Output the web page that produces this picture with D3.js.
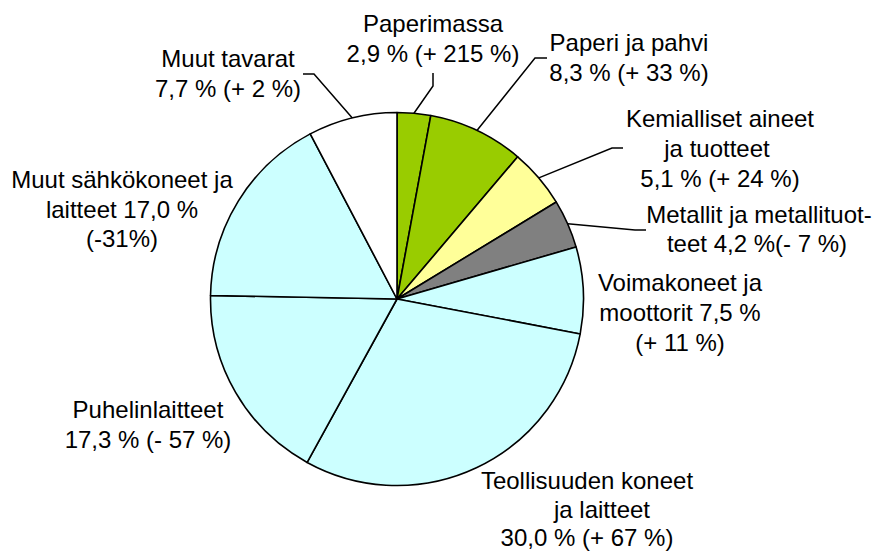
<!DOCTYPE html>
<html>
<head>
<meta charset="utf-8">
<script src="https://cdn.jsdelivr.net/npm/d3@7"></script>
<style>
  body { margin: 0; background: #fff; }
  svg { display: block; }
</style>
</head>
<body>
<div id="chart"></div>
<script>
var width = 874,
    height = 551;

// shares of exports, %
var categories = ["Paperimassa", "Paperi ja pahvi", "Kemialliset aineet ja tuotteet",
  "Metallit ja metallituotteet", "Voimakoneet ja moottorit", "Teollisuuden koneet ja laitteet",
  "Puhelinlaitteet", "Muut sähkökoneet ja laitteet", "Muut tavarat"];
var shares = [2.9, 8.3, 5.1, 4.2, 7.5, 30.0, 17.3, 17.0, 7.7];
var labelText = [
  ["Paperimassa", "2,9 % (+ 215 %)"],
  ["Paperi ja pahvi", "8,3 % (+ 33 %)"],
  ["Kemialliset aineet", "ja tuotteet", "5,1 % (+ 24 %)"],
  ["Metallit ja metallituot-", "teet 4,2 %(- 7 %)"],
  ["Voimakoneet ja", "moottorit 7,5 %", "(+ 11 %)"],
  ["Teollisuuden koneet", "ja laitteet", "30,0 % (+ 67 %)"],
  ["Puhelinlaitteet", "17,3 % (- 57 %)"],
  ["Muut sähkökoneet ja", "laitteet 17,0 %", "(-31%)"],
  ["Muut tavarat", "7,7 % (+ 2 %)"]
];

// styling / layout
var colors = ["#99cc00", "#99cc00", "#ffff99", "#808080", "#ccffff", "#ccffff", "#ccffff", "#ccffff", "#ffffff"];
var cx = 397, cy = 299, radius = 186.5;
// label anchor: centre x, first baseline, line height, per-line x shift
var labelPos = [
  {x: 433, y: 32, lh: 30, dx: [0, 0]},
  {x: 629, y: 51, lh: 30, dx: [0, 0]},
  {x: 720, y: 127, lh: 30, dx: [0, -3, 0]},
  {x: 759, y: 223, lh: 29, dx: [0, -2]},
  {x: 680, y: 291, lh: 30, dx: [0, 0, 0]},
  {x: 587, y: 489, lh: 28.5, dx: [0, 15, 0]},
  {x: 148, y: 418, lh: 30, dx: [0, 0]},
  {x: 122, y: 188, lh: 29.5, dx: [0, 0, 0]},
  {x: 228, y: 67, lh: 30, dx: [0, 0]}
];
// leader line points after the arc point (null = no leader)
var leaders = [
  [[433, 86], [433, 73]],
  [[535, 58], [547, 58]],
  [[612, 148], [623, 148]],
  [[635, 230], [646, 230]],
  null, null, null, null,
  [[314, 74], [303, 74]]
];

var svg = d3.select("#chart").append("svg")
    .attr("width", width)
    .attr("height", height);

var pie = d3.pie().sort(null).value(function(d) { return d; });
var arcs = pie(shares);

var arc = d3.arc().innerRadius(0).outerRadius(radius);
var edge = d3.arc().innerRadius(radius).outerRadius(radius);

var g = svg.append("g")
    .attr("transform", "translate(" + cx + "," + cy + ")");

g.selectAll("path.slice")
    .data(arcs)
  .enter().append("path")
    .attr("class", "slice")
    .attr("d", arc)
    .attr("fill", function(d, i) { return colors[i]; })
    .attr("stroke", "#000")
    .attr("stroke-width", 1.6)
    .attr("stroke-linejoin", "round");

// leader lines
var line = d3.line();
arcs.forEach(function(d, i) {
  if (!leaders[i]) return;
  var p = edge.centroid(d);
  var pts = [[p[0] + cx, p[1] + cy]].concat(leaders[i]);
  svg.append("path")
      .attr("d", line(pts))
      .attr("fill", "none")
      .attr("stroke", "#000")
      .attr("stroke-width", 1.5);
});

// labels
labelText.forEach(function(lines, i) {
  var pos = labelPos[i];
  var t = svg.append("text")
      .attr("text-anchor", "middle")
      .attr("font-family", "Arial, 'Liberation Sans', sans-serif")
      .attr("font-size", "24px")
      .attr("fill", "#000");
  lines.forEach(function(s, j) {
    t.append("tspan")
        .attr("x", pos.x + pos.dx[j])
        .attr("y", pos.y + j * pos.lh)
        .text(s);
  });
});
</script>
</body>
</html>
